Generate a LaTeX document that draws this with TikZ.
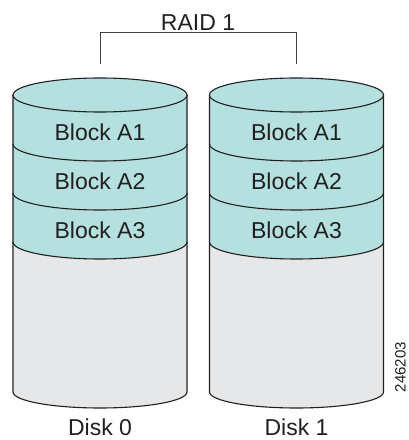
\documentclass[tikz,border=0pt]{standalone}
\usepackage{fontspec}
\setmainfont{Liberation Sans}
\usetikzlibrary{positioning,calc}
\definecolor{blockfill}{RGB}{180,225,223}
\definecolor{diskfill}{RGB}{230,231,232}
\definecolor{inkline}{RGB}{35,31,32}

\begin{document}
\begin{tikzpicture}[x=1pt, y=1pt,
    disk line/.style={draw=inkline, line width=1.1pt},
    bracket line/.style={draw=inkline!85, line width=0.9pt},
    label text/.style={font=\fontsize{23}{27}\selectfont, text=inkline, inner sep=0pt},
    tag text/.style={font=\fontsize{15}{18}\selectfont, text=inkline, inner sep=0pt, rotate=90}
]
\useasboundingbox (0,0) rectangle (408,440);

\foreach \cx/\n in {100/0, 296.5/1} {
    % body
    \fill[diskfill] (\cx-87,345) -- (\cx-87,48)
        arc[start angle=180, end angle=360, x radius=87, y radius=16] -- (\cx+87,345) -- cycle;
    \fill[blockfill] (\cx-87,345) -- (\cx-87,198)
        arc[start angle=180, end angle=360, x radius=87, y radius=17] -- (\cx+87,345) -- cycle;
    \draw[disk line] (\cx-87,345) -- (\cx-87,48)
        arc[start angle=180, end angle=360, x radius=87, y radius=16] -- (\cx+87,345);
    % block edges
    \foreach \y in {296, 247, 198}
        \draw[disk line] (\cx-87,\y) arc[start angle=180, end angle=360, x radius=87, y radius=17];
    % lid
    \draw[disk line, fill=blockfill] (\cx,345) ellipse[x radius=87, y radius=17];
    % texts
    \node[label text] (a1-\n) at (\cx,308) {Block A1};
    \node[label text] (a2-\n) at (\cx,259) {Block A2};
    \node[label text] (a3-\n) at (\cx,210) {Block A3};
    \node[label text] (disk\n) at (\cx,13) {Disk \n};
    \coordinate (top\n) at (\cx,376);
}

\node[label text] (raid) at (198,417) {RAID 1};
\draw[bracket line] (top0) -- ++(0,32) -| (top1);

\node[tag text] (tag) at (400.5,73) {246203};
\end{tikzpicture}
\end{document}
